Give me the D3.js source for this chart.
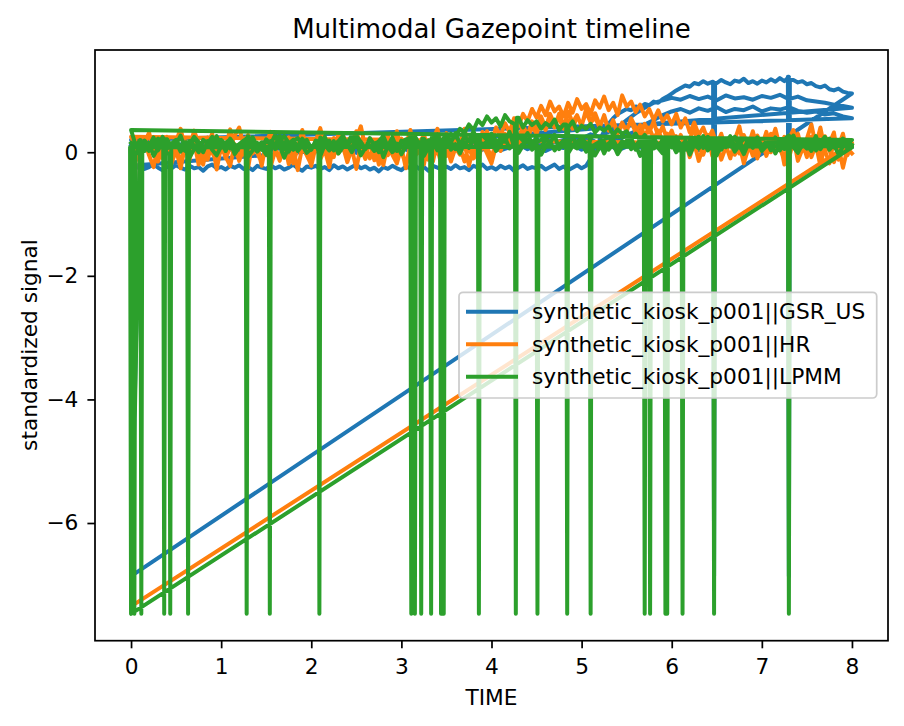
<!DOCTYPE html>
<html>
<head>
<meta charset="utf-8">
<script src="https://cdn.jsdelivr.net/npm/d3@7"></script>
<style>
body { margin: 0; background: #fff; }
text { font-family: "DejaVu Sans", sans-serif; fill: #000; }
</style>
</head>
<body>
<svg id="chart" width="904" height="726"></svg>
<script>
// sample times (s): coarse grid and fine grid
var TIME = [0.0, 0.1, 0.2, 0.3, 0.4, 0.5, 0.6, 0.7, 0.8, 0.9,
    1.0, 1.1, 1.2, 1.3, 1.4, 1.5, 1.6, 1.7, 1.8, 1.9,
    2.0, 2.1, 2.2, 2.3, 2.4, 2.5, 2.6, 2.7, 2.8, 2.9,
    3.0, 3.1, 3.2, 3.3, 3.4, 3.5, 3.6, 3.7, 3.8, 3.9,
    4.0, 4.1, 4.2, 4.3, 4.4, 4.5, 4.6, 4.7, 4.8, 4.9,
    5.0, 5.1, 5.2, 5.3, 5.4, 5.5, 5.6, 5.7, 5.8, 5.9,
    6.0, 6.1, 6.2, 6.3, 6.4, 6.5, 6.6, 6.7, 6.8, 6.9,
    7.0, 7.1, 7.2, 7.3, 7.4, 7.5, 7.6, 7.7, 7.8, 7.9,
    8.0];
var TIME_FINE = [0.0, 0.05, 0.1, 0.15, 0.2, 0.25, 0.3, 0.35, 0.4, 0.45,
    0.5, 0.55, 0.6, 0.65, 0.7, 0.75, 0.8, 0.85, 0.9, 0.95,
    1.0, 1.05, 1.1, 1.15, 1.2, 1.25, 1.3, 1.35, 1.4, 1.45,
    1.5, 1.55, 1.6, 1.65, 1.7, 1.75, 1.8, 1.85, 1.9, 1.95,
    2.0, 2.05, 2.1, 2.15, 2.2, 2.25, 2.3, 2.35, 2.4, 2.45,
    2.5, 2.55, 2.6, 2.65, 2.7, 2.75, 2.8, 2.85, 2.9, 2.95,
    3.0, 3.05, 3.1, 3.15, 3.2, 3.25, 3.3, 3.35, 3.4, 3.45,
    3.5, 3.55, 3.6, 3.65, 3.7, 3.75, 3.8, 3.85, 3.9, 3.95,
    4.0, 4.05, 4.1, 4.15, 4.2, 4.25, 4.3, 4.35, 4.4, 4.45,
    4.5, 4.55, 4.6, 4.65, 4.7, 4.75, 4.8, 4.85, 4.9, 4.95,
    5.0, 5.05, 5.1, 5.15, 5.2, 5.25, 5.3, 5.35, 5.4, 5.45,
    5.5, 5.55, 5.6, 5.65, 5.7, 5.75, 5.8, 5.85, 5.9, 5.95,
    6.0, 6.05, 6.1, 6.15, 6.2, 6.25, 6.3, 6.35, 6.4, 6.45,
    6.5, 6.55, 6.6, 6.65, 6.7, 6.75, 6.8, 6.85, 6.9, 6.95,
    7.0, 7.05, 7.1, 7.15, 7.2, 7.25, 7.3, 7.35, 7.4, 7.45,
    7.5, 7.55, 7.6, 7.65, 7.7, 7.75, 7.8, 7.85, 7.9, 7.95,
    8.0];

var seriesNames = ["synthetic_kiosk_p001||GSR_US", "synthetic_kiosk_p001||HR", "synthetic_kiosk_p001||LPMM"];
var seriesColors = ["#1f77b4", "#ff7f0e", "#2ca02c"];
var xTicks = [0, 1, 2, 3, 4, 5, 6, 7, 8];
var yTicks = [0, -2, -4, -6];

// GSR_US sessions (plotted one after another)
var gsrA = [0.12, 0.05, 0.15, 0.08, 0.18, 0.02, 0.1, 0.16, 0.04, 0.11,
    0.07, 0.17, 0.03, 0.13, 0.09, 0.19, 0.05, 0.12, 0.01, 0.14,
    0.08, 0.16, 0.06, 0.1, 0.2, 0.04, 0.13, 0.07, 0.17, 0.02,
    0.12, 0.09, 0.18, 0.05, 0.14, 0.08, 0.2, 0.11, 0.06, 0.16,
    0.1, 0.19, 0.07, 0.15, 0.12, 0.22, 0.09, 0.18, 0.14, 0.24,
    0.16, 0.21, 0.13, 0.25, 0.19, 0.28, 0.34, 0.45, 0.52, 0.6,
    0.66, 0.7, 0.64, 0.71, 0.67, 0.73, 0.65, 0.7, 0.68, 0.74,
    0.66, 0.71, 0.69, 0.73, 0.67, 0.64, 0.66, 0.61, 0.63, 0.58,
    0.55];
var gsrB = [0.2, 0.08, 0.14, 0.03, 0.12, 0.07, 0.17, 0.05, 0.13, 0.09,
    0.15, 0.04, 0.11, 0.18, 0.06, 0.12, 0.02, 0.16, 0.09, 0.13,
    0.05, 0.14, 0.1, 0.17, 0.03, 0.12, 0.08, 0.15, 0.06, 0.11,
    0.16, 0.07, 0.13, 0.1, 0.19, 0.04, 0.14, 0.09, 0.18, 0.12,
    0.15, 0.08, 0.2, 0.13, 0.17, 0.11, 0.23, 0.16, 0.2, 0.26,
    0.22, 0.29, 0.25, 0.33, 0.4, 0.52, 0.63, 0.72, 0.8, 0.84,
    0.88, 0.85, 0.91, 0.86, 0.9, 0.84, 0.92, 0.87, 0.89, 0.85,
    0.91, 0.88, 0.93, 0.86, 0.9, 0.84, 0.82, 0.8, 0.77, 0.75,
    0.72];
var gsrC = [-0.22, -0.26, -0.21, -0.27, -0.24, -0.2, -0.25, -0.29, -0.23, -0.26,
    -0.21, -0.25, -0.28, -0.22, -0.26, -0.24, -0.3, -0.23, -0.2, -0.26,
    -0.24, -0.28, -0.22, -0.25, -0.21, -0.27, -0.24, -0.29, -0.22, -0.25,
    -0.27, -0.21, -0.26, -0.23, -0.28, -0.25, -0.2, -0.26, -0.3, -0.23,
    -0.25, -0.22, -0.27, -0.24, -0.29, -0.21, -0.26, -0.23, -0.28, -0.24,
    -0.2, -0.26, -0.23, -0.28, -0.25, -0.31, -0.24, -0.27, -0.22, -0.26,
    -0.29, -0.23, -0.26, -0.21, -0.27, -0.24, -0.3, -0.22, -0.25, -0.28,
    -0.23, -0.27, -0.21, -0.26, -0.24, -0.29, -0.22, -0.25, -0.2, -0.27,
    -0.24, -0.28, -0.22, -0.26, -0.23, -0.3, -0.25, -0.21, -0.27, -0.24,
    -0.26, -0.22, -0.28, -0.24, -0.2, -0.27, -0.23, -0.29, -0.25, -0.21,
    -0.26, -0.22, -0.1, 0.05, 0.2, 0.34, 0.46, 0.55, 0.62, 0.66,
    0.7, 0.68, 0.74, 0.72, 0.78, 0.76, 0.82, 0.8, 0.86, 0.9,
    0.95, 1.0, 1.04, 1.08, 1.06, 1.12, 1.1, 1.15, 1.11, 1.14,
    1.12, 1.17, 1.13, 1.1, 1.16, 1.14, 1.19, 1.12, 1.15, 1.11,
    1.16, 1.13, 1.18, 1.14, 1.2, 1.15, 1.22, 1.17, 1.13, 1.15,
    1.1, 1.12, 1.07, 1.05, 1.08, 1.02, 1.0, 1.03, 0.98, 0.96,
    0.95];
var gsrD = [-6.86, 0.02, 0.1, -0.03, 0.07, 0.12, 0.0, 0.09, 0.04, 0.13,
    0.01, 0.08, 0.11, -0.02, 0.06, 0.1, 0.03, 0.12, 0.05, 0.0,
    0.09, 0.04, 0.13, 0.02, 0.07, -0.01, 0.1, 0.06, 0.12, 0.03,
    0.08, 0.01, 0.11, 0.05, 0.14, 0.02, 0.09, 0.06, 0.12, 0.04,
    0.1, 0.03, 0.08, 0.13, 0.05, 0.11, 0.02, 0.09, 0.07, 0.12,
    0.04, 0.1, 0.06, 0.13, 0.03, 0.09, 0.11, 0.05, 0.12, 0.08,
    0.14, 0.06, 0.1, 0.03, 0.12, 0.08, 0.15, 0.05, 0.11, 0.09,
    0.13, 0.04, 0.1, 0.07, 0.14, 0.06, 0.11, 0.08, 0.12, 0.1,
    0.09];
var gsrDropC = [6.47, 7.30];
var gsrFloor = -6.86;

// HR sessions
var hrA = [0.05, 0.2, -0.08, 0.14, 0.32, 0.0, -0.15, 0.1, 0.25, -0.05,
    0.18, 0.38, 0.06, -0.12, 0.22, 0.03, -0.2, 0.12, 0.3, -0.02,
    0.15, -0.1, 0.08, 0.27, 0.4, 0.1, -0.06, 0.2, 0.02, -0.18,
    0.12, 0.33, 0.05, -0.14, 0.16, 0.24, -0.04, 0.08, 0.36, 0.0,
    -0.22, 0.1, 0.26, 0.04, 0.15, -0.08, 0.3, 0.12, -0.16, 0.06,
    0.22, 0.42, 0.08, -0.1, 0.18, 0.02, 0.28, -0.05, 0.14, 0.34,
    0.0, -0.19, 0.11, 0.25, 0.06, 0.17, -0.12, 0.2, 0.38, 0.03,
    -0.06, 0.15, 0.29, 0.09, -0.15, 0.12, 0.24, 0.01, 0.33, 0.1,
    -0.1, 0.18, 0.05, 0.3, 0.14, 0.36, 0.2, 0.44, 0.26, 0.5,
    0.35, 0.58, 0.4, 0.62, 0.45, 0.55, 0.38, 0.66, 0.48, 0.6,
    0.42, 0.7, 0.5, 0.63, 0.44, 0.57, 0.36, 0.52, 0.3, 0.48,
    0.34, 0.55, 0.4, 0.28, 0.46, 0.32, 0.5, 0.25, 0.42, 0.2,
    0.35, 0.14, 0.28, 0.05, 0.22, 0.38, 0.1, -0.04, 0.18, 0.3,
    0.02, 0.24, 0.12, -0.1, 0.2, 0.42, 0.08, 0.15, -0.06, 0.27,
    0.1, 0.33, 0.0, 0.19, 0.07, -0.14, 0.22, 0.36, 0.04, 0.16,
    -0.08, 0.25, 0.11, 0.4, 0.03, -0.18, 0.2, 0.09, 0.3, -0.05,
    0.12];
var hrB = [0.25, 0.08, -0.1, 0.16, 0.3, 0.02, -0.14, 0.12, 0.22, -0.04,
    0.1, -0.2, 0.18, 0.06, 0.35, 0.14, -0.07, 0.24, 0.0, -0.16,
    0.2, 0.09, 0.37, 0.04, -0.12, 0.15, 0.28, -0.02, 0.11, -0.22,
    0.17, 0.32, 0.06, -0.09, 0.21, 0.13, -0.18, 0.07, 0.26, 0.01,
    -0.06, 0.19, 0.39, 0.1, -0.14, 0.23, 0.05, 0.3, -0.03, 0.14,
    0.34, 0.08, -0.11, 0.2, 0.12, -0.2, 0.16, 0.27, 0.03, -0.08,
    0.22, 0.11, 0.36, -0.05, 0.13, 0.29, 0.02, -0.15, 0.18, 0.08,
    0.31, -0.01, 0.2, 0.12, 0.38, 0.06, -0.1, 0.25, 0.15, 0.34,
    0.18, 0.4, 0.26, 0.47, 0.32, 0.55, 0.42, 0.62, 0.5, 0.7,
    0.56, 0.75, 0.6, 0.82, 0.66, 0.74, 0.58, 0.8, 0.64, 0.86,
    0.7, 0.78, 0.62, 0.84, 0.72, 0.9, 0.68, 0.8, 0.6, 0.92,
    0.74, 0.82, 0.65, 0.77, 0.58, 0.7, 0.52, 0.68, 0.5, 0.6,
    0.45, 0.62, 0.4, 0.55, 0.32, 0.48, 0.28, 0.4, 0.2, 0.35,
    0.12, 0.3, 0.05, 0.24, 0.16, -0.02, 0.28, 0.1, 0.34, 0.06,
    0.2, -0.06, 0.15, 0.38, 0.08, 0.25, -0.1, 0.18, 0.3, 0.02,
    0.22, 0.45, 0.1, -0.04, 0.26, 0.14, 0.32, -0.12, 0.2, 0.1,
    0.15];
var hrC = [-7.35, 0.08, -0.16, 0.2, -0.05, -0.24, 0.12, -0.1, 0.24, -0.18,
    0.04, -0.26, 0.1, -0.03, 0.18, -0.2, 0.06, -0.12, 0.16, -0.28,
    0.09, -0.07, -0.22, 0.13, -0.14, 0.05, -0.25, 0.19, -0.01, -0.17,
    0.11, -0.23, 0.03, -0.09, 0.15, -0.19, 0.07, -0.29, 0.09, -0.05,
    -0.2, 0.13, -0.11, 0.04, -0.24, 0.17, -0.02, 0.1, -0.16, 0.06,
    -0.27, 0.12, -0.08, 0.2, -0.13, 0.02, -0.21, 0.15, -0.04, -0.18,
    0.08, -0.26, 0.14, -0.06, 0.03, -0.2, 0.18, -0.1, 0.05, -0.23,
    0.11, -0.15, 0.07, -0.04, 0.16, -0.22, 0.09, -0.12, 0.13, -0.02,
    -0.18, 0.1, 0.02, 0.2, 0.08, 0.28, 0.14, 0.35, 0.22, 0.42,
    0.3, 0.5, 0.36, 0.55, 0.4, 0.62, 0.45, 0.52, 0.38, 0.58,
    0.44, 0.65, 0.48, 0.56, 0.4, 0.6, 0.35, 0.5, 0.3, 0.45,
    0.38, 0.5, 0.32, 0.44, 0.26, 0.4, 0.22, 0.35, 0.18, 0.3,
    0.12, 0.26, 0.04, 0.2, -0.08, 0.15, -0.14, 0.1, 0.28, -0.06,
    0.16, -0.12, 0.08, 0.22, -0.04, 0.13, -0.18, 0.06, 0.25, -0.1,
    0.14, -0.02, 0.3, 0.0, 0.18, -0.2, 0.09, 0.24, -0.14, 0.05,
    0.2, -0.08, 0.12, -0.22, 0.15, 0.03, -0.16, 0.1, -0.25, 0.06,
    -0.02];

// LPMM sessions
var lpA = [0.15, 0.08, 0.2, 0.12, 0.02, 0.18, 0.1, 0.25, 0.06, 0.14,
    0.2, 0.04, 0.16, 0.09, 0.23, 0.12, 0.0, 0.17, 0.11, 0.26,
    0.07, 0.15, 0.21, 0.03, 0.13, 0.19, 0.08, 0.24, 0.1, 0.16,
    0.01, 0.18, 0.12, 0.27, 0.05, 0.14, 0.2, 0.09, 0.22, 0.13,
    0.04, 0.19, 0.11, 0.25, 0.07, 0.16, 0.02, 0.21, 0.14, 0.28,
    0.09, 0.17, 0.05, 0.22, 0.13, 0.0, 0.18, 0.1, 0.24, 0.06,
    0.15, 0.21, 0.08, 0.26, 0.12, 0.03, 0.19, 0.14, 0.29, 0.1,
    0.22, 0.16, 0.31, 0.12, 0.25, 0.18, 0.34, 0.14, 0.27, 0.2,
    0.3, 0.11, 0.24, 0.17, 0.33, 0.09, 0.26, 0.19, 0.31, 0.13,
    0.23, 0.08, 0.2, 0.15, 0.28, 0.05, 0.18, 0.12, 0.25, 0.1,
    0.17, 0.03, 0.21, 0.11, 0.16, -0.02, 0.14, 0.2, 0.07, 0.18,
    0.1, 0.23, 0.04, 0.15, 0.19, 0.06, 0.22, 0.12, 0.01, 0.17,
    0.13, 0.24, 0.08, 0.18, 0.02, 0.2, 0.11, 0.26, 0.07, 0.15,
    0.21, 0.04, 0.17, 0.12, 0.25, 0.09, 0.0, 0.19, 0.14, 0.23,
    0.06, 0.16, 0.1, 0.24, 0.03, 0.18, 0.13, 0.27, 0.08, 0.2,
    0.12, 0.02, 0.19, 0.15, 0.25, 0.07, 0.17, 0.11, 0.22, 0.14,
    0.2];
var lpB = [0.36, 0.12, 0.05, 0.19, 0.1, 0.24, 0.03, 0.16, 0.21, 0.08,
    0.13, 0.27, 0.06, 0.18, 0.11, 0.0, 0.2, 0.14, 0.25, 0.09,
    0.17, 0.02, 0.22, 0.12, 0.07, 0.19, 0.26, 0.1, 0.15, 0.04,
    0.21, 0.13, 0.28, 0.08, 0.16, 0.01, 0.18, 0.23, 0.11, 0.2,
    0.06, 0.14, 0.24, 0.1, 0.19, 0.03, 0.17, 0.27, 0.12, 0.08,
    0.2, 0.15, 0.05, 0.23, 0.11, 0.18, 0.26, 0.09, 0.14, 0.02,
    0.19, 0.12, 0.25, 0.07, 0.16, 0.22, 0.1, 0.28, 0.15, 0.21,
    0.18, 0.3, 0.24, 0.38, 0.32, 0.45, 0.36, 0.52, 0.44, 0.58,
    0.48, 0.55, 0.42, 0.6, 0.5, 0.46, 0.56, 0.4, 0.52, 0.44,
    0.5, 0.38, 0.47, 0.42, 0.53, 0.36, 0.45, 0.4, 0.5, 0.34,
    0.43, 0.38, 0.46, 0.32, 0.4, 0.35, 0.42, 0.28, 0.37, 0.3,
    0.34, 0.22, 0.3, 0.18, 0.26, 0.14, 0.22, 0.1, 0.2, 0.16,
    0.08, 0.22, 0.13, 0.04, 0.19, 0.11, 0.25, 0.07, 0.17, 0.12,
    0.02, 0.2, 0.15, 0.26, 0.09, 0.18, 0.05, 0.21, 0.13, 0.24,
    0.1, 0.17, 0.03, 0.22, 0.12, 0.19, 0.06, 0.25, 0.14, 0.09,
    0.2, 0.11, 0.26, 0.05, 0.16, 0.22, 0.08, 0.18, 0.13, 0.07,
    0.1];
var lpC = [0.08, -0.04, 0.1, 0.02, 0.15, -0.06, 0.07, 0.12, -0.02, 0.09,
    0.16, 0.01, 0.11, -0.08, 0.05, 0.13, 0.0, 0.18, 0.04, -0.05,
    0.1, 0.06, 0.17, -0.03, 0.08, 0.14, -0.07, 0.03, 0.12, 0.07,
    -0.04, 0.15, 0.05, 0.1, -0.09, 0.09, 0.2, 0.02, 0.11, -0.01,
    0.06, 0.14, -0.06, 0.12, 0.03, 0.18, -0.02, 0.08, 0.13, 0.0,
    0.17, -0.05, 0.07, 0.11, 0.02, 0.16, -0.08, 0.1, 0.05, 0.14,
    -0.03, 0.09, 0.19, 0.01, 0.12, -0.06, 0.08, 0.15, 0.03, 0.1,
    0.2, 0.04, 0.13, -0.02, 0.16, 0.07, 0.22, 0.05, 0.14, 0.1,
    0.18, 0.02, 0.12, 0.24, 0.06, 0.15, -0.01, 0.11, 0.2, 0.04,
    0.13, -0.04, 0.09, 0.17, 0.03, 0.12, 0.19, -0.02, 0.1, 0.06,
    0.15, 0.01, 0.11, -0.05, 0.08, 0.16, 0.04, 0.13, -0.03, 0.09,
    0.18, 0.05, 0.12, -0.06, 0.1, 0.02, 0.15, 0.07, -0.02, 0.11,
    0.14, 0.0, 0.09, 0.17, -0.04, 0.12, 0.06, 0.19, 0.03, 0.1,
    -0.05, 0.13, 0.08, 0.16, 0.01, 0.11, -0.03, 0.14, 0.07, 0.18,
    0.02, 0.1, 0.15, -0.02, 0.12, 0.05, 0.17, 0.08, -0.01, 0.13,
    0.06, 0.16, 0.03, 0.11, 0.19, 0.04, 0.12, -0.03, 0.09, 0.14,
    0.08];
var lpD = [-7.47, 0.14, 0.05, 0.22, 0.1, 0.18, 0.02, 0.25, 0.08, 0.16,
    0.2, 0.06, 0.13, 0.24, 0.01, 0.17, 0.1, 0.26, 0.04, 0.15,
    0.09, 0.21, 0.03, 0.18, 0.12, 0.27, 0.06, 0.14, 0.2, 0.0,
    0.16, 0.24, 0.08, 0.19, 0.11, 0.28, 0.05, 0.15, 0.22, 0.1,
    0.26, 0.13, 0.3, 0.07, 0.2, 0.16, 0.24, 0.04, 0.18, 0.12,
    0.22, 0.08, 0.17, 0.25, 0.03, 0.19, 0.11, 0.28, 0.06, 0.14,
    0.21, 0.02, 0.16, 0.09, 0.25, 0.12, 0.18, 0.05, 0.22, 0.13,
    0.07, 0.2, 0.15, 0.27, 0.04, 0.18, 0.1, 0.24, 0.08, 0.19,
    0.12];
// pupil dropouts (sample goes to the floor value)
var lpDropA = [0.114, 0.633, 1.54, 3.11, 3.33, 3.86, 4.51, 5.10, 5.76, 5.95, 6.47];
var lpDropB = [0.368, 1.283, 2.09, 3.22, 3.44, 4.27, 4.84, 5.70, 6.12, 7.30];
var lpDropC = [0.0, 0.037, 0.435, 3.15, 3.47, 5.93];
var lpFloor = -7.47;

var width = 904, height = 726;
var plotLeft = 95, plotTop = 50, plotRight = 888, plotBottom = 640.7;
var lineW = 4;
var svg = d3.select("#chart");

// chain the sessions into one path; a dropout is a single sample at the floor
function buildPath(sessions, dropLists, floor) {
    var pts = [];
    sessions.forEach(function(vals, s) {
        var drops = dropLists[s];
        var grid = vals.length == TIME_FINE.length ? TIME_FINE : TIME;
        vals.forEach(function(v, i) {
            pts.push([grid[i], v]);
            if (i == vals.length - 1) return;
            drops.forEach(function(td) {
                if (td >= grid[i] && td < grid[i + 1]) {
                    pts.push([td - 0.011, v]);
                    pts.push([td, floor]);
                    pts.push([td + 0.011, vals[i + 1]]);
                }
            });
        });
    });
    return pts;
}

var paths = [
    buildPath([gsrA, gsrB, gsrC, gsrD], [[], [], gsrDropC, []], gsrFloor),
    buildPath([hrA, hrB, hrC], [[], [], []], 0),
    buildPath([lpA, lpB, lpC, lpD], [lpDropA, lpDropB, lpDropC, []], lpFloor)
];

var all = d3.merge(paths);
var xExt = [d3.min(TIME), d3.max(TIME)];
var yExt = d3.extent(all, function(p) { return p[1]; });
var xPad = (xExt[1] - xExt[0]) * 0.05, yPad = (yExt[1] - yExt[0]) * 0.05;

var x = d3.scaleLinear().domain([xExt[0] - xPad, xExt[1] + xPad]).range([plotLeft, plotRight]);
var y = d3.scaleLinear().domain([yExt[0] - yPad, yExt[1] + yPad]).range([plotBottom, plotTop]);

svg.append("clipPath").attr("id", "plotClip")
    .append("rect")
    .attr("x", plotLeft).attr("y", plotTop)
    .attr("width", plotRight - plotLeft).attr("height", plotBottom - plotTop);

var line = d3.line()
    .x(function(p) { return x(p[0]); })
    .y(function(p) { return y(p[1]); });

svg.append("g").attr("clip-path", "url(#plotClip)")
    .selectAll("path")
    .data(paths)
    .enter().append("path")
    .attr("d", line)
    .style("fill", "none")
    .style("stroke", function(d, i) { return seriesColors[i]; })
    .style("stroke-width", lineW)
    .style("stroke-linejoin", "round")
    .style("stroke-linecap", "square");

// Axes
var xAxis = svg.append("g")
    .attr("transform", "translate(0," + plotBottom + ")")
    .call(d3.axisBottom(x).tickValues(xTicks).tickSize(7.6).tickPadding(10));
var yAxis = svg.append("g")
    .attr("transform", "translate(" + plotLeft + ",0)")
    .call(d3.axisLeft(y).tickValues(yTicks).tickSize(7.6).tickPadding(9)
        .tickFormat(function(d) { return d < 0 ? "\u2212" + Math.abs(d) : d; }));
[xAxis, yAxis].forEach(function(a) {
    a.select(".domain").remove();
    a.selectAll(".tick line").style("stroke", "#000").style("stroke-width", 1.73);
    a.selectAll(".tick text").style("font-size", "21.7px").style("font-family", "DejaVu Sans, sans-serif").style("fill", "#000");
});

svg.append("rect")
    .attr("x", plotLeft).attr("y", plotTop)
    .attr("width", plotRight - plotLeft).attr("height", plotBottom - plotTop)
    .style("fill", "none")
    .style("stroke", "#000")
    .style("stroke-width", 1.73);

// Titles
svg.append("text")
    .attr("x", (plotLeft + plotRight) / 2).attr("y", 37.5)
    .attr("text-anchor", "middle")
    .style("font-size", "26px")
    .text("Multimodal Gazepoint timeline");

svg.append("text")
    .attr("x", (plotLeft + plotRight) / 2).attr("y", 705)
    .attr("text-anchor", "middle")
    .style("font-size", "21.7px")
    .text("TIME");

svg.append("text")
    .attr("transform", "translate(29,345) rotate(-90)")
    .attr("text-anchor", "middle")
    .attr("dominant-baseline", "central")
    .style("font-size", "21.7px")
    .text("standardized signal");

// Legend
var legend = svg.append("g");
legend.append("rect")
    .attr("x", 459).attr("y", 292.3)
    .attr("width", 417.7).attr("height", 105.7)
    .attr("rx", 4).attr("ry", 4)
    .style("fill", "#fff").style("fill-opacity", 0.8)
    .style("stroke", "#ccc").style("stroke-width", 1.73);

var rows = legend.selectAll(".row")
    .data(seriesNames)
    .enter().append("g")
    .attr("class", "row")
    .attr("transform", function(d, i) { return "translate(0," + (311.7 + i * 32.5) + ")"; });
rows.append("line")
    .attr("x1", 468).attr("x2", 516)
    .style("stroke", function(d, i) { return seriesColors[i]; })
    .style("stroke-width", lineW)
    .style("stroke-linecap", "square");
rows.append("text")
    .attr("x", 532)
    .attr("dominant-baseline", "central")
    .style("font-size", "21.7px")
    .text(function(d) { return d; });
</script>
</body>
</html>
